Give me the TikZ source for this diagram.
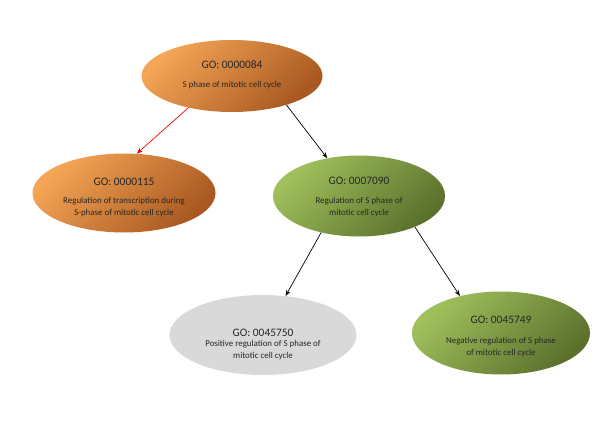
\documentclass[tikz,border=0pt]{standalone}
\usepackage{fontspec}
\setmainfont{Carlito}
\usetikzlibrary{shapes.geometric,arrows.meta}
\definecolor{orL}{RGB}{244,165,85}
\definecolor{orD}{RGB}{168,88,32}
\definecolor{grL}{RGB}{160,192,92}
\definecolor{grD}{RGB}{90,112,44}
\definecolor{gyF}{RGB}{217,217,217}
\tikzset{
  goell/.style={ellipse, inner sep=0pt},
  orangeell/.style={goell, top color=orL, bottom color=orD, shading angle=45},
  greenell/.style={goell, top color=grL, bottom color=grD, shading angle=45},
  grayell/.style={goell, fill=gyF},
  gotitle/.style={inner sep=0pt, font=\fontsize{11.4}{13}\selectfont, text=black!85},
  godesc/.style={inner sep=0pt, align=center, font=\fontsize{8.9}{12}\selectfont, text=black!85},
  goarrow/.style={line width=0.7pt, -{Stealth[length=6pt,width=4.5pt]}},
}
\begin{document}
\begin{tikzpicture}[x=1pt,y=1pt]
\useasboundingbox (0,0) rectangle (600,432);
% ellipses
\node[orangeell, minimum width=181, minimum height=72] (top) at (232,356) {};
\node[orangeell, minimum width=183, minimum height=79] (left) at (124,239) {};
\node[greenell, minimum width=172, minimum height=81] (mid) at (359,236) {};
\node[grayell, minimum width=187, minimum height=80] (gray) at (263,97) {};
\node[greenell, minimum width=178, minimum height=83] (right) at (501,99) {};
% texts
\node[gotitle] (topT) at (232,367) {GO: 0000084};
\node[godesc] (topD) at (232,347) {S phase of mitotic cell cycle};
\node[gotitle] (leftT) at (124,250) {GO: 0000115};
\node[godesc] (leftD) at (124,224.5) {Regulation of transcription during\\S-phase of mitotic cell cycle};
\node[gotitle] (midT) at (359,251) {GO: 0007090};
\node[godesc] (midD) at (359,224.5) {Regulation of S phase of\\mitotic cell cycle};
\node[gotitle] (grayT) at (263,99) {GO: 0045750};
\node[godesc] (grayD) at (263,81.5) {Positive regulation of S phase of\\mitotic cell cycle};
\node[gotitle] (rightT) at (501,112) {GO: 0045749};
\node[godesc] (rightD) at (501,85) {Negative regulation of S phase\\of mitotic cell cycle};
% arrows
\draw[goarrow, red] (top.216) -- (left.72);
\draw[goarrow] (top.332) -- (mid.130);
\draw[goarrow] (mid.224) -- (gray.60);
\draw[goarrow] (mid.331) -- (right.138);
\end{tikzpicture}
\end{document}
